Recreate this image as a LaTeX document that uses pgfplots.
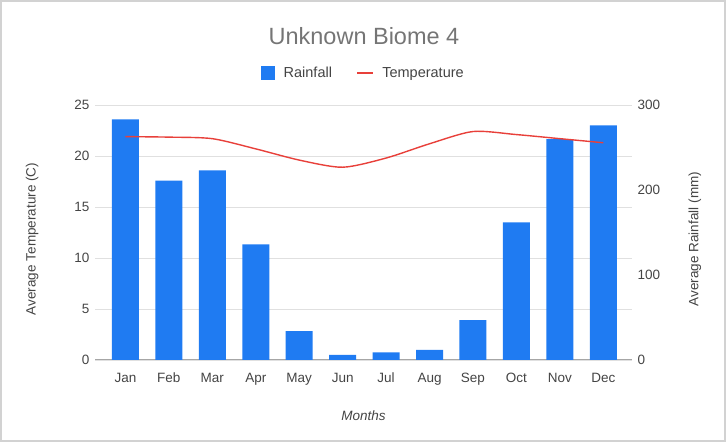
\documentclass[border=0pt]{standalone}
\usepackage{pgfplots}
\pgfplotsset{compat=1.18}
\usepackage{fontspec}
\setmainfont{Liberation Sans}
\definecolor{barblue}{HTML}{1F7BF2}
\definecolor{linered}{HTML}{E8403A}
\definecolor{txtgray}{HTML}{444444}
\definecolor{titlegray}{HTML}{757575}
\definecolor{gridgray}{HTML}{E0E0E0}
\pgfplotstableread{
x rain temp
0 283 21.9
1 211 21.85
2 223 21.7
3 136 20.7
4 34 19.6
5 6 18.9
6 9 19.8
7 12 21.2
8 47 22.4
9 162 22.1
10 260 21.7
11 276 21.3
}\biome
\begin{document}
\begin{tikzpicture}
\useasboundingbox (0pt,0pt) rectangle (726pt,442pt);
\draw[gray!35,line width=1.2pt] (1pt,1pt) rectangle (725pt,441pt);
\pgfplotsset{
  common/.style={
    at={(95pt,82pt)}, anchor=south west,
    scale only axis, width=537pt, height=255pt,
    xmin=-0.7, xmax=11.66,
    tick label style={font=\fontsize{13.5}{15}\selectfont, text=txtgray},
    label style={font=\fontsize{13.5}{15}\selectfont, text=txtgray},
    /pgf/number format/assume math mode=true,
    tick style={draw=none},
  }
}
\begin{axis}[common,
  axis y line*=right, axis x line*=bottom,
  ymin=0, ymax=300, ytick={0,100,200,300},
  xtick={0,...,11},
  xticklabels={Jan,Feb,Mar,Apr,May,Jun,Jul,Aug,Sep,Oct,Nov,Dec},
  x axis line style={draw=gray!70, line width=1pt},
  y axis line style={draw=none},
  extra y ticks={0,60,120,180,240,300},
  extra y tick labels={},
  extra y tick style={grid=major, grid style={draw=gridgray, line width=0.9pt}},
  xlabel={\itshape Months},
  xlabel style={at={(axis description cs:0.5,-0.2168)}, anchor=center},
  ylabel={Average Rainfall (mm)},
  ylabel style={at={(axis description cs:1.1173,0.4745)}, anchor=center},
  yticklabel style={anchor=west, xshift=2pt},
  xticklabel style={yshift=-9pt, text height=10pt, text depth=3pt},
]
\addplot[ybar, bar width=27pt, fill=barblue, draw=none, bar shift=0pt] table[x=x,y=rain]{\biome};
\end{axis}
\begin{axis}[common,
  axis y line*=left, axis x line=none,
  ymin=0, ymax=25, ytick={0,5,...,25},
  y axis line style={draw=none},
  ylabel={Average Temperature (C)},
  ylabel style={at={(axis description cs:-0.1173,0.4745)}, anchor=center},
  yticklabel style={anchor=east, xshift=-2pt},
  legend columns=2,
  legend style={at={(axis description cs:0.5,1.125)}, anchor=center, draw=none, fill=none,
    font=\fontsize{14.5}{16}\selectfont, text=txtgray,
    /tikz/every even column/.append style={column sep=22pt}},
]
\addlegendimage{legend image code/.code={\fill[barblue] (0pt,-6.5pt) rectangle (13pt,6.5pt); \path (20pt,0pt);}}
\addlegendentry{Rainfall}
\addlegendimage{legend image code/.code={\draw[linered, line width=2.2pt] (0pt,0pt) -- (16pt,0pt); \path (23pt,0pt);}}
\addlegendentry{Temperature}
\addplot[linered, line width=1.4pt, smooth, tension=0.45, mark=none, forget plot] table[x=x,y=temp]{\biome};
\end{axis}
\node[font=\fontsize{23.5}{27}\selectfont, text=titlegray] at (364pt,406pt) {Unknown Biome 4};
\end{tikzpicture}
\end{document}
